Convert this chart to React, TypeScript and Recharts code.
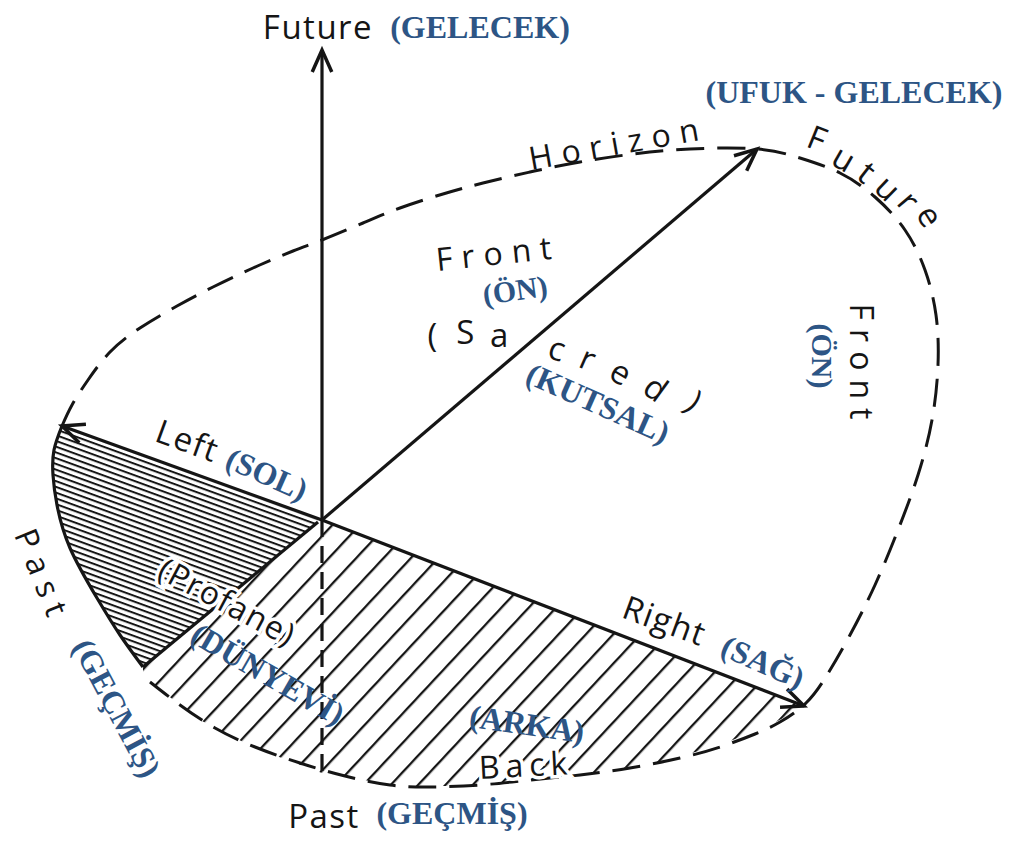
import React from "react"
import { ComposedChart, XAxis, YAxis, Line, Area, Scatter } from "recharts"

const W = 1029
const H = 841
const INK = "#151515"
const BLUE = "#2d5585"

// rays from the centre (image coordinates, y grows downward)
const origin = { x: 322, y: 520 }
const futureRay = [origin, { x: 322, y: 50 }]
const pastRay = [origin, { x: 322, y: 776 }]
const frontRay = [origin, { x: 757, y: 149 }]
const leftRay = [origin, { x: 62, y: 426 }]
const rightRay = [origin, { x: 804, y: 706 }]
const profaneEdge = [{ x: 143, y: 667 }, { x: 318, y: 522 }]

// horizon outline, clockwise from the left arrow tip
const horizonDashed = [
  { x: 62, y: 426 }, { x: 72, y: 405 }, { x: 88, y: 380 }, { x: 110, y: 352 },
  { x: 140, y: 328 }, { x: 177, y: 306 }, { x: 213, y: 287 }, { x: 253, y: 268 },
  { x: 293, y: 251 }, { x: 322, y: 240 }, { x: 363, y: 223 }, { x: 400, y: 208 },
  { x: 443, y: 194 }, { x: 483, y: 183 }, { x: 530, y: 172 }, { x: 580, y: 162 },
  { x: 633, y: 154 }, { x: 690, y: 149 }, { x: 757, y: 149 }, { x: 800, y: 158 },
  { x: 840, y: 173 }, { x: 875, y: 197 }, { x: 905, y: 230 }, { x: 925, y: 270 },
  { x: 936, y: 315 }, { x: 938, y: 365 }, { x: 932, y: 420 }, { x: 918, y: 475 },
  { x: 898, y: 530 }, { x: 875, y: 585 }, { x: 850, y: 635 }, { x: 827, y: 675 },
  { x: 806, y: 703 }, { x: 780, y: 722 }, { x: 755, y: 734 }, { x: 720, y: 747 },
  { x: 680, y: 758 }, { x: 630, y: 768 }, { x: 580, y: 775 }, { x: 530, y: 780 },
  { x: 480, y: 785 }, { x: 430, y: 787 }, { x: 390, y: 785 }, { x: 345, y: 776 },
  { x: 300, y: 763 }, { x: 255, y: 747 }, { x: 215, y: 728 }, { x: 180, y: 705 },
  { x: 150, y: 682 },
]
const horizonSolid = [
  { x: 62, y: 426 }, { x: 54, y: 450 }, { x: 53, y: 475 }, { x: 57, y: 505 },
  { x: 70, y: 548 }, { x: 97, y: 598 }, { x: 120, y: 635 }, { x: 143, y: 667 },
]

// hatched regions as ranges (top edge, bottom edge) over x
const profaneHatch = [
  { x: 52, top: 468, bottom: 470 },
  { x: 56, top: 442, bottom: 505 },
  { x: 62, top: 427, bottom: 525 },
  { x: 70, top: 429, bottom: 548 },
  { x: 97, top: 439, bottom: 598 },
  { x: 120, top: 447, bottom: 635 },
  { x: 143, top: 456, bottom: 667 },
  { x: 318, top: 520, bottom: 522 },
]
const backHatch = [
  { x: 143, top: 667, bottom: 671 },
  { x: 150, top: 661, bottom: 682 },
  { x: 200, top: 620, bottom: 720 },
  { x: 255, top: 575, bottom: 748 },
  { x: 322, top: 520, bottom: 773 },
  { x: 400, top: 550, bottom: 786 },
  { x: 470, top: 577, bottom: 786 },
  { x: 540, top: 604, bottom: 779 },
  { x: 600, top: 627, bottom: 772 },
  { x: 660, top: 650, bottom: 762 },
  { x: 720, top: 674, bottom: 745 },
  { x: 770, top: 693, bottom: 725 },
  { x: 804, top: 706, bottom: 707 },
]

// arrow tips and the point each arrow comes from
const arrowHeads = [
  { x: 322, y: 50, fromX: 322, fromY: 520 },
  { x: 757, y: 149, fromX: 322, fromY: 520 },
  { x: 62, y: 426, fromX: 322, fromY: 520 },
  { x: 804, y: 706, fromX: 322, fromY: 520 },
]

const labels = [
  { x: 318, y: 26, text: "Future", angle: 0, kind: "ink" },
  { x: 480, y: 27, text: "(GELECEK)", angle: 0, kind: "blue" },
  { x: 854, y: 92, text: "(UFUK - GELECEK)", angle: 0, kind: "blue" },
  { x: 618, y: 142, text: "Horizon", angle: -10, kind: "inkWide" },
  { x: 818, y: 138, text: "F", angle: 22, kind: "ink" },
  { x: 845, y: 158, text: "u", angle: 30, kind: "ink" },
  { x: 868, y: 172, text: "t", angle: 38, kind: "ink" },
  { x: 889, y: 188, text: "u", angle: 44, kind: "ink" },
  { x: 910, y: 201, text: "r", angle: 50, kind: "ink" },
  { x: 931, y: 216, text: "e", angle: 58, kind: "ink" },
  { x: 498, y: 252, text: "Front", angle: -6, kind: "inkWide" },
  { x: 515, y: 290, text: "(ÖN)", angle: -8, kind: "blueSm" },
  { x: 433, y: 334, text: "(", angle: 0, kind: "ink" },
  { x: 466, y: 331, text: "S", angle: 0, kind: "ink" },
  { x: 500, y: 334, text: "a", angle: 0, kind: "ink" },
  { x: 558, y: 348, text: "c", angle: 18, kind: "ink" },
  { x: 589, y: 358, text: "r", angle: 24, kind: "ink" },
  { x: 622, y: 372, text: "e", angle: 30, kind: "ink" },
  { x: 657, y: 388, text: "d", angle: 36, kind: "ink" },
  { x: 695, y: 401, text: ")", angle: 40, kind: "ink" },
  { x: 598, y: 403, text: "(KUTSAL)", angle: 24, kind: "blue" },
  { x: 862, y: 366, text: "Front", angle: 90, kind: "inkWide" },
  { x: 822, y: 356, text: "(ÖN)", angle: 90, kind: "blueSm" },
  { x: 188, y: 440, text: "Left", angle: 20, kind: "ink" },
  { x: 267, y: 474, text: "(SOL)", angle: 24, kind: "blue" },
  { x: 44, y: 576, text: "Past", angle: 68, kind: "inkWide" },
  { x: 117, y: 708, text: "(GEÇMİŞ)", angle: 62, kind: "blue" },
  { x: 228, y: 601, text: "(Profane)", angle: 28, kind: "inkHalo" },
  { x: 268, y: 674, text: "(DÜNYEVİ)", angle: 30, kind: "blue" },
  { x: 665, y: 620, text: "Right", angle: 20, kind: "ink" },
  { x: 763, y: 662, text: "(SAĞ)", angle: 24, kind: "blue" },
  { x: 527, y: 724, text: "(ARKA)", angle: 8, kind: "blue" },
  { x: 526, y: 764, text: "Back", angle: -3, kind: "inkHaloWide" },
  { x: 324, y: 815, text: "Past", angle: 0, kind: "ink" },
  { x: 452, y: 813, text: "(GEÇMİŞ)", angle: 0, kind: "blue" },
]

const SANS = "'Open Sans', 'DejaVu Sans', sans-serif"
const SERIF = "'Liberation Serif', 'DejaVu Serif', serif"

const textStyles: Record<string, any> = {
  ink: { fontFamily: SANS, fontSize: 33, fill: INK, letterSpacing: 1.5 },
  inkWide: { fontFamily: SANS, fontSize: 32, fill: INK, letterSpacing: 9 },
  inkHalo: { fontFamily: SANS, fontSize: 32, fill: INK, letterSpacing: 1.5, stroke: "#fff", strokeWidth: 7, paintOrder: "stroke" },
  inkHaloWide: { fontFamily: SANS, fontSize: 32, fill: INK, letterSpacing: 6, stroke: "#fff", strokeWidth: 7, paintOrder: "stroke" },
  blue: { fontFamily: SERIF, fontSize: 32, fontWeight: 700, fill: BLUE },
  blueSm: { fontFamily: SERIF, fontSize: 30, fontWeight: 700, fill: BLUE },
}

function ArrowHead(props: any) {
  const { cx, cy, payload } = props
  if (cx == null || cy == null) return null
  const ang = Math.atan2(payload.y - payload.fromY, payload.x - payload.fromX)
  const len = 24
  const spread = 0.42
  const b1x = cx - len * Math.cos(ang - spread)
  const b1y = cy - len * Math.sin(ang - spread)
  const b2x = cx - len * Math.cos(ang + spread)
  const b2y = cy - len * Math.sin(ang + spread)
  return (
    <path
      d={`M${b1x},${b1y}L${cx},${cy}L${b2x},${b2y}`}
      fill="none"
      stroke={INK}
      strokeWidth={3.5}
      strokeLinejoin="miter"
    />
  )
}

function Label(props: any) {
  const { cx, cy, payload } = props
  if (cx == null || cy == null) return null
  const st = textStyles[payload.kind]
  return (
    <text
      x={cx}
      y={cy}
      textAnchor="middle"
      dominantBaseline="central"
      transform={`rotate(${payload.angle}, ${cx}, ${cy})`}
      {...st}
    >
      {payload.text}
    </text>
  )
}

const ray = (data: any[], dashed = false) => (
  <Line
    data={data}
    dataKey="y"
    type="linear"
    stroke={INK}
    strokeWidth={3.2}
    strokeDasharray={dashed ? "17 9" : undefined}
    dot={false}
    activeDot={false}
    isAnimationActive={false}
  />
)

export default function App() {
  return (
    <div style={{ position: "absolute", left: 0, top: 0, width: W, height: H, background: "#fff" }}>
      <svg width={0} height={0} style={{ position: "absolute" }}>
        <defs>
          <pattern id="hatchDense" patternUnits="userSpaceOnUse" width={10} height={5.4} patternTransform="rotate(20)">
            <rect x={0} y={0} width={10} height={2} fill={INK} />
          </pattern>
          <pattern id="hatchWide" patternUnits="userSpaceOnUse" width={10} height={20} patternTransform="rotate(-47)">
            <rect x={0} y={0} width={10} height={2.3} fill={INK} />
          </pattern>
        </defs>
      </svg>
      <ComposedChart width={W} height={H} margin={{ top: 0, right: 0, bottom: 0, left: 0 }}>
        <XAxis type="number" dataKey="x" domain={[0, W]} hide allowDataOverflow />
        <YAxis type="number" dataKey="y" domain={[0, H]} reversed hide allowDataOverflow width={0} />
        <Area
          data={backHatch}
          dataKey={(d: any) => [d.bottom, d.top]}
          type="linear"
          stroke="none"
          fill="url(#hatchWide)"
          fillOpacity={1}
          isAnimationActive={false}
          activeDot={false}
        />
        <Area
          data={profaneHatch}
          dataKey={(d: any) => [d.bottom, d.top]}
          type="linear"
          stroke="none"
          fill="url(#hatchDense)"
          fillOpacity={1}
          isAnimationActive={false}
          activeDot={false}
        />
        <Line
          data={horizonDashed}
          dataKey="y"
          type="natural"
          stroke={INK}
          strokeWidth={3}
          strokeDasharray="28 13"
          dot={false}
          activeDot={false}
          isAnimationActive={false}
        />
        <Line
          data={horizonSolid}
          dataKey="y"
          type="natural"
          stroke={INK}
          strokeWidth={3.2}
          dot={false}
          activeDot={false}
          isAnimationActive={false}
        />
        {ray(futureRay)}
        {ray(pastRay, true)}
        {ray(frontRay)}
        {ray(leftRay)}
        {ray(rightRay)}
        {ray(profaneEdge)}
        <Scatter data={arrowHeads} dataKey="y" shape={ArrowHead} isAnimationActive={false} />
        <Scatter data={labels} dataKey="y" shape={Label} isAnimationActive={false} />
      </ComposedChart>
    </div>
  )
}
